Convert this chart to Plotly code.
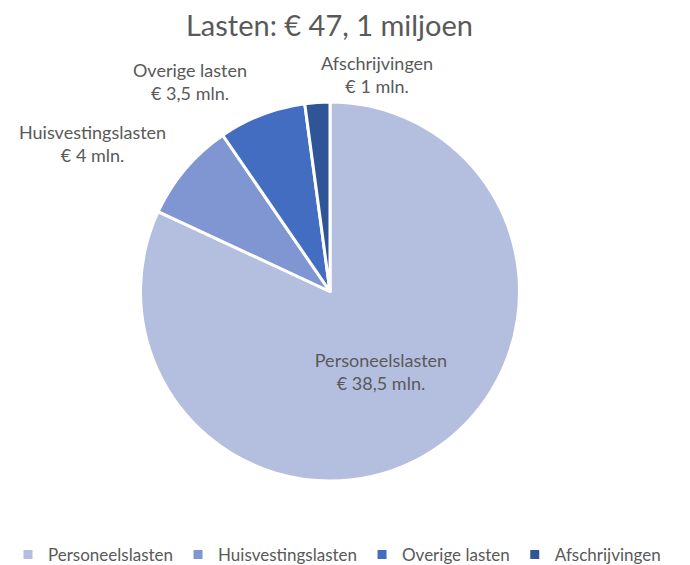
import plotly.graph_objects as go

categories = ["Personeelslasten", "Huisvestingslasten", "Overige lasten", "Afschrijvingen"]
values = [38.5, 4, 3.5, 1]
value_labels = ["€ 38,5 mln.", "€ 4 mln.", "€ 3,5 mln.", "€ 1 mln."]
colors = ["#b4bfe0", "#7f96d2", "#426dc0", "#2f5597"]
title_text = "Lasten: € 47, 1 miljoen"

FONT = "Lato, Open Sans, sans-serif"
GRAY = "#595959"
W, H = 690, 565
OFF = 8  # page body margin

texts = [f"{c}<br>{v}" for c, v in zip(categories, value_labels)]

cx, cy, r = 330 - OFF, 293 - OFF, 190.5

fig = go.Figure(go.Pie(
    labels=categories,
    values=values,
    text=[texts[0], "", "", ""],
    textinfo="text",
    textposition="inside",
    insidetextorientation="horizontal",
    insidetextfont=dict(family=FONT, size=18, color=GRAY),
    sort=False,
    direction="clockwise",
    rotation=0,
    marker=dict(colors=colors, line=dict(color="white", width=3)),
    domain=dict(x=[(cx - r) / W, (cx + r) / W], y=[1 - (cy + r) / H, 1 - (cy - r) / H]),
    hoverinfo="label+value",
))

label_pos = [None, (92.5, 144), (190, 82), (377, 74.5)]
annotations = []
for i in range(1, 4):
    x, y = label_pos[i]
    annotations.append(dict(
        x=(x - OFF) / W, y=1 - (y - OFF) / H, xref="paper", yref="paper",
        text=texts[i], showarrow=False, align="center",
        font=dict(family=FONT, size=18, color=GRAY),
        xanchor="center", yanchor="middle",
    ))

fig.update_layout(
    width=W, height=H,
    margin=dict(l=0, r=0, t=0, b=0),
    paper_bgcolor="white", plot_bgcolor="white",
    title=dict(text=title_text, x=(329.5 - OFF) / W, xanchor="center", y=1 - (26 - OFF) / H,
               yanchor="middle", font=dict(family=FONT, size=29, color=GRAY)),
    annotations=annotations,
    showlegend=True,
    legend=dict(orientation="h", x=(330 - OFF) / W, xanchor="center", y=1 - (558 - OFF) / H,
                yanchor="middle", font=dict(family=FONT, size=17, color=GRAY),
                itemwidth=30, traceorder="normal"),
)

fig.write_html("out.html")
